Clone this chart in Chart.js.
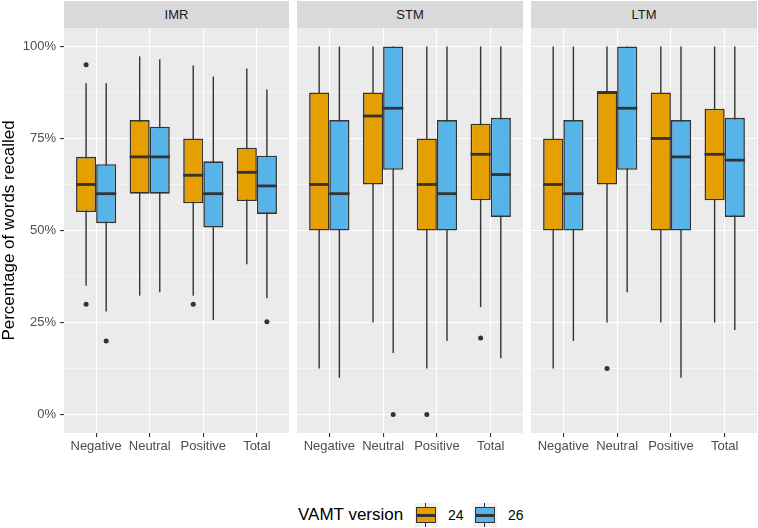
<!DOCTYPE html>
<html>
<head>
<meta charset="utf-8">
<script src="https://cdn.jsdelivr.net/npm/chart.js@4/dist/chart.umd.min.js"></script>
<style>
body { margin: 0; width: 758px; height: 528px; background: #fff; position: relative; overflow: hidden; font-family: "Liberation Sans", Arial, sans-serif; }
.strip { position: absolute; top: 1px; height: 27px; line-height: 27px; background: #d9d9d9; color: #1a1a1a; font-size: 13px; text-align: center; }
canvas { position: absolute; top: 28px; }
.lg { position: absolute; top: 503px; height: 24px; line-height: 24px; color: #000; }
.key { position: absolute; top: 503px; width: 24px; height: 24px; background: #f2f2f2; }
.key .wh { position: absolute; left: 11px; top: 0; width: 1.4px; height: 24px; background: #333; }
.key .bx { position: absolute; left: 2px; top: 4px; width: 20px; height: 16px; border: 1.5px solid #333; box-sizing: border-box; }
.key .md { position: absolute; left: 2px; top: 11px; width: 20px; height: 2.6px; background: #333; }
</style>
</head>
<body>
<div class="strip" style="left:64px;width:225px">IMR</div>
<div class="strip" style="left:297px;width:226px">STM</div>
<div class="strip" style="left:531px;width:226px">LTM</div>
<canvas id="c1" width="289" height="440" style="left:0px"></canvas>
<canvas id="c2" width="226" height="440" style="left:297px"></canvas>
<canvas id="c3" width="226" height="440" style="left:531px"></canvas>

<div class="lg" style="left:298px;font-size:17px">VAMT version</div>
<div class="key" style="left:414px"><div class="wh"></div><div class="bx" id="k24"></div><div class="md"></div></div>
<div class="lg" style="left:448px;font-size:14px">24</div>
<div class="key" style="left:473px"><div class="wh"></div><div class="bx" id="k26"></div><div class="md"></div></div>
<div class="lg" style="left:508px;font-size:14px">26</div>

<script>
// categories and versions
const cats = ['Negative', 'Neutral', 'Positive', 'Total'];
const versions = ['24', '26'];
const colors = ['#E69F00', '#56B4E9'];
const yTicks = [0, 12.5, 25, 37.5, 50, 62.5, 75, 87.5, 100];

// rows: [whisker low, Q1, median, Q3, whisker high] per category
const imr24 = [[35, 55, 62.5, 70, 90], [32.3, 60, 70, 80, 97.3], [32.3, 57.4, 65, 75, 94.8], [40.8, 58, 65.8, 72.5, 94]];
const imr26 = [[28, 52, 60, 68, 90], [33.2, 60, 70, 78.2, 96.5], [25.7, 50.8, 60, 68.8, 91.8], [31.6, 54.5, 62.1, 70.3, 88.3]];
const stm24 = [[12.5, 50, 62.5, 87.5, 100], [25, 62.5, 81.1, 87.5, 100], [12.5, 50, 62.5, 75, 100], [29.2, 58.2, 70.7, 79, 100]];
const stm26 = [[10, 50, 60, 80, 100], [16.7, 66.5, 83.2, 100, 100], [20, 50, 60, 80, 100], [15.3, 53.7, 65.2, 80.6, 100]];
const ltm24 = [[12.5, 50, 62.5, 75, 100], [25, 62.5, 87.5, 87.5, 100], [25, 50, 75, 87.5, 100], [25, 58.2, 70.7, 83.1, 100]];
const ltm26 = [[20, 50, 60, 80, 100], [33.2, 66.5, 83.2, 100, 100], [10, 50, 70, 80, 100], [23, 53.7, 69.1, 80.6, 100]];

// outliers per category
const imr24Out = [[95, 30], [], [30], []];
const imr26Out = [[20], [], [], [25.2]];
const stm24Out = [[], [], [0], [20.8]];
const stm26Out = [[], [0], [], []];
const ltm24Out = [[], [12.5], [], []];
const ltm26Out = [[], [], [], []];

document.getElementById('k24').style.background = colors[0];
document.getElementById('k26').style.background = colors[1];

const groupWidth = 0.75;
const dodge = groupWidth / 4;

const panelBg = {
    id: 'panelBg',
    beforeDraw(chart) {
        const a = chart.chartArea;
        chart.ctx.save();
        chart.ctx.fillStyle = '#ebebeb';
        chart.ctx.fillRect(a.left, a.top, a.right - a.left, a.bottom - a.top);
        chart.ctx.restore();
    }
};

// thick median line across each box, placed with the y scale
const medianLines = {
    id: 'medianLines',
    afterDatasetsDraw(chart) {
        const ctx = chart.ctx;
        const y = chart.scales.y;
        chart.data.datasets.forEach((ds, di) => {
            if (!ds.medians) return;
            chart.getDatasetMeta(di).data.forEach((bar, i) => {
                let py = y.getPixelForValue(ds.medians[i]);
                ctx.save();
                ctx.fillStyle = '#333333';
                ctx.fillRect(bar.x - bar.width / 2, py - 1.4, bar.width, 2.8);
                ctx.restore();
            });
        });
    }
};

function makePanel(id, rowsA, outA, rowsB, outB, showY) {
    let rows = [rowsA, rowsB];
    let outs = [outA, outB];
    let datasets = [];
    // outliers on top
    for (let v = 0; v < 2; v++) {
        let pts = [];
        outs[v].forEach((list, i) => {
            list.forEach(val => pts.push({ x: i + 1 + (v === 0 ? -dodge : dodge), y: val }));
        });
        datasets.push({
            type: 'scatter', data: pts, pointRadius: 2.5,
            backgroundColor: '#333333', borderWidth: 0
        });
    }
    // boxes Q1..Q3
    for (let v = 0; v < 2; v++) {
        datasets.push({
            type: 'bar', stack: 'v' + versions[v],
            data: rows[v].map((r, i) => ({ x: i + 1, y: [r[1], r[3]] })),
            medians: rows[v].map(r => r[2]),
            backgroundColor: colors[v], borderColor: '#333333', borderWidth: 1.6,
            borderSkipped: false, inflateAmount: 0
        });
    }
    // whiskers drawn first
    for (let v = 0; v < 2; v++) {
        datasets.push({
            type: 'bar', stack: 'v' + versions[v],
            data: rows[v].map((r, i) => ({ x: i + 1, y: [r[0], r[4]] })),
            backgroundColor: '#333333', borderWidth: 0, maxBarThickness: 1.4, inflateAmount: 0
        });
    }

    return new Chart(document.getElementById(id), {
        type: 'bar',
        data: { datasets: datasets },
        options: {
            responsive: false,
            animation: false,
            categoryPercentage: groupWidth,
            barPercentage: 1,
            layout: { padding: 0, autoPadding: false },
            plugins: { legend: { display: false }, tooltip: { enabled: false } },
            scales: {
                x: {
                    type: 'linear', min: 0.4, max: 4.6, offset: false,
                    border: { display: false },
                    grid: { color: '#ffffff', lineWidth: 1.1, offset: false, tickLength: 4, tickColor: '#333333', tickWidth: 1.1 },
                    ticks: {
                        font: { size: 13, family: '"Liberation Sans", Arial, sans-serif' }, color: '#4d4d4d',
                        padding: 2, autoSkip: false, maxRotation: 0,
                        callback: (val) => cats[val - 1]
                    },
                    afterBuildTicks: (scale) => { scale.ticks = cats.map((c, i) => ({ value: i + 1 })); },
                    afterFit: (scale) => {
                        scale.height = 35;
                        scale.paddingLeft = 0; scale.paddingRight = 0;
                    }
                },
                y: {
                    type: 'linear', min: -5, max: 105, stacked: false,
                    border: { display: false },
                    grid: {
                        color: '#ffffff',
                        lineWidth: (ctx) => (ctx.tick && ctx.tick.value % 25 === 0) ? 1.1 : 0.5,
                        drawTicks: showY, tickLength: 4, tickWidth: 1.1,
                        tickColor: (ctx) => (ctx.tick && ctx.tick.value % 25 === 0) ? '#333333' : 'rgba(0,0,0,0)'
                    },
                    ticks: {
                        display: showY,
                        font: { size: 13, family: '"Liberation Sans", Arial, sans-serif' }, color: '#4d4d4d',
                        padding: 4,
                        callback: (val) => val % 25 === 0 ? val + '%' : ''
                    },
                    title: {
                        display: showY, text: 'Percentage of words recalled', color: '#000000',
                        font: { size: 17, family: '"Liberation Sans", Arial, sans-serif', lineHeight: 1.1 },
                        padding: 0
                    },
                    afterBuildTicks: (scale) => { scale.ticks = yTicks.map(v => ({ value: v })); },
                    afterFit: (scale) => {
                        scale.width = showY ? 64 : 0;
                        scale.paddingTop = 0; scale.paddingBottom = 0;
                    }
                }
            }
        },
        plugins: [panelBg, medianLines]
    });
}

makePanel('c1', imr24, imr24Out, imr26, imr26Out, true);
makePanel('c2', stm24, stm24Out, stm26, stm26Out, false);
makePanel('c3', ltm24, ltm24Out, ltm26, ltm26Out, false);
</script>
</body>
</html>
